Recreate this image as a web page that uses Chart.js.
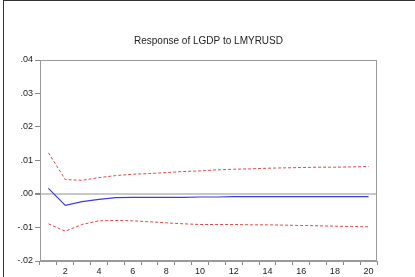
<!DOCTYPE html>
<html>
<head>
<meta charset="utf-8">
<script src="https://cdn.jsdelivr.net/npm/chart.js@4.4.1/dist/chart.umd.min.js"></script>
<style>
  html, body { margin: 0; padding: 0; background: #fff; }
  #wrap { width: 415px; height: 277px; position: relative; }
</style>
</head>
<body>
<div id="wrap"><canvas id="myChart" width="415" height="277"></canvas></div>
<script>
// impulse response data, periods 1..20
const periods = ["1","2","3","4","5","6","7","8","9","10","11","12","13","14","15","16","17","18","19","20"];
const response = [0.0017, -0.0034, -0.0023, -0.0016, -0.0011, -0.0010, -0.0010, -0.0010, -0.0010, -0.0009, -0.0009, -0.0008, -0.0008, -0.0008, -0.0008, -0.0008, -0.0008, -0.0008, -0.0008, -0.0008];
const upperBand = [0.0123, 0.0043, 0.0041, 0.0049, 0.0055, 0.0059, 0.0061, 0.0064, 0.0067, 0.0069, 0.0072, 0.0074, 0.0075, 0.0077, 0.0078, 0.0079, 0.0080, 0.0080, 0.0081, 0.0082];
const lowerBand = [-0.0089, -0.0111, -0.0091, -0.0080, -0.0079, -0.0080, -0.0083, -0.0086, -0.0089, -0.0091, -0.0091, -0.0091, -0.0092, -0.0092, -0.0093, -0.0094, -0.0095, -0.0096, -0.0097, -0.0098];
const yTicks = [".04", ".03", ".02", ".01", ".00", "-.01", "-.02"];

const frame = {
  id: "frame",
  afterDraw(chart) {
    const c = chart.ctx;
    const a = chart.chartArea;
    c.save();
    // plot box
    c.strokeStyle = "#9a9a9a";
    c.lineWidth = 1;
    c.strokeRect(a.left + 0.5, a.top + 0.5, a.right - a.left - 1, a.bottom - a.top - 1);
    // outer figure frame
    c.strokeStyle = "#333";
    c.beginPath();
    c.moveTo(3.5, 0);
    c.lineTo(3.5, chart.height);
    c.moveTo(3, 0.5);
    c.lineTo(chart.width, 0.5);
    c.stroke();
    c.restore();
  }
};

var ctx = document.getElementById("myChart").getContext("2d");
var myChart = new Chart(ctx, {
  type: "line",
  data: {
    labels: periods,
    datasets: [
      { label: "upper", data: upperBand, borderColor: "#e04848", borderWidth: 1, borderDash: [3, 2], pointRadius: 0, fill: false, tension: 0 },
      { label: "response", data: response, borderColor: "#3c3ce0", borderWidth: 1.2, pointRadius: 0, fill: false, tension: 0 },
      { label: "lower", data: lowerBand, borderColor: "#e04848", borderWidth: 1, borderDash: [3, 2], pointRadius: 0, fill: false, tension: 0 }
    ]
  },
  options: {
    responsive: false,
    animation: false,
    layout: { padding: { left: 0, right: 38, top: 0, bottom: 0 } },
    plugins: {
      legend: { display: false },
      tooltip: { enabled: false },
      title: {
        display: true,
        fullSize: false,
        text: "Response of LGDP to LMYRUSD",
        color: "#222",
        font: { family: "Liberation Sans", size: 10, weight: "normal", lineHeight: 1.2 },
        padding: { top: 35, bottom: 13 }
      }
    },
    scales: {
      x: {
        offset: true,
        grid: { display: true, offset: true, drawOnChartArea: false, tickLength: 4, color: "#888" },
        border: { display: true, color: "#9a9a9a" },
        ticks: {
          autoSkip: false, maxRotation: 0, padding: 1,
          color: "#222",
          font: { family: "Liberation Sans", size: 9 },
          callback: function(v, i) { return (i + 1) % 2 === 0 ? periods[i] : ""; }
        },
        afterFit: function(s) { s.height = 16; }
      },
      y: {
        min: -0.02, max: 0.04,
        grid: {
          drawOnChartArea: true, tickLength: 5, tickColor: "#888",
          color: function(c) { return c.tick && Math.abs(c.tick.value) < 1e-9 ? "#c8c8c8" : "rgba(0,0,0,0)"; },
          lineWidth: function(c) { return c.tick && Math.abs(c.tick.value) < 1e-9 ? 2 : 1; }
        },
        border: { display: true, color: "#9a9a9a" },
        ticks: {
          stepSize: 0.01, padding: 2,
          color: "#222",
          font: { family: "Liberation Sans", size: 9 },
          callback: function(v) { return yTicks[Math.round((0.04 - v) / 0.01)]; }
        },
        afterFit: function(s) { s.width = 40; }
      }
    }
  },
  plugins: [frame]
});
</script>
</body>
</html>
